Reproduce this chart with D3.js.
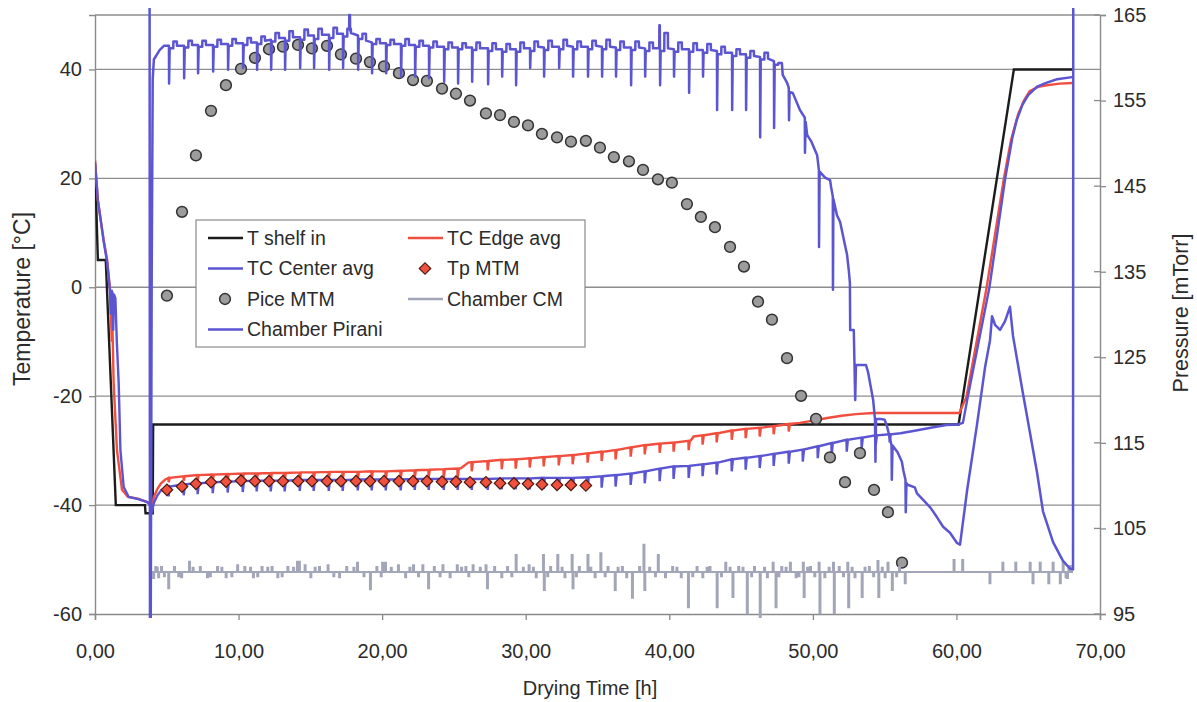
<!DOCTYPE html>
<html>
<head>
<meta charset="utf-8">
<title>Drying run</title>
<script src="https://cdn.jsdelivr.net/npm/d3@7/dist/d3.min.js"></script>
<style>
body{margin:0;background:#fff;}
text{font-family:"Liberation Sans",Arial,sans-serif;fill:#2b2b2b;}
</style>
</head>
<body>
<svg id="chart" width="1197" height="702"></svg>
<script>
// ---- data ----
var timeTicks = [0,10,20,30,40,50,60,70];
var tempTicks = [-60,-40,-20,0,20,40];
var presTicks = [95,105,115,125,135,145,155,165];

var legendNames = ["T shelf in","TC Edge avg","TC Center avg","Tp MTM","Pice MTM","Chamber CM","Chamber Pirani"];

// T shelf in [h, °C]
var shelfIn = [[0.0,22.5],[0.2,5.0],[0.75,5.0],[1.45,-40.0],[3.48,-40.0],[3.52,-41.5],[4.02,-41.5],[4.05,-25.2],
  [60.15,-25.2],[64.0,40.0],[68.1,40.0]];

// TC Edge avg: start, hourly dips [h, level, bottom], extra, end
var edgeHead = [[0.0,23.4],[0.2,16.0],[0.6,8.7],[0.85,5.0],[1.05,-0.5],[1.12,-6.0],[1.17,-10.0],[1.21,-6.5],
  [1.3,-17.6],[1.53,-29.9],[1.88,-37.2],[2.3,-38.5],[3.0,-38.8],[3.6,-39.4],[3.85,-39.6],[3.95,-40.2],
  [4.1,-38.5],[4.35,-37.0],[4.6,-36.0],[4.9,-35.3]];
var edgeDips = [[5.11,-35.0,-35.8],[6.16,-34.7,-35.5],[7.13,-34.5,-35.4],[8.18,-34.4,-35.4],[9.22,-34.3,-35.4],
  [10.27,-34.2,-35.4],[11.24,-34.2,-35.5],[12.22,-34.1,-35.5],[13.19,-34.1,-35.5],[14.24,-34.0,-35.5],
  [15.21,-34.0,-35.5],[16.26,-33.9,-35.4],[17.23,-33.9,-35.4],[18.28,-33.9,-35.4],[19.25,-33.8,-35.3],
  [20.23,-33.8,-35.3],[21.27,-33.7,-35.2],[22.25,-33.6,-35.1],[23.22,-33.5,-35.0],[24.27,-33.4,-35.0],
  [25.24,-33.3,-35.0],[26.22,-32.1,-33.8],[27.33,-31.9,-33.6],[28.31,-31.7,-33.4],[29.28,-31.6,-33.3],
  [30.26,-31.4,-33.1],[31.23,-31.2,-32.9],[32.28,-31.0,-32.7],[33.25,-30.8,-32.5],[34.29,-30.5,-32.2],
  [35.27,-30.2,-31.9],[36.24,-29.9,-31.6],[37.29,-29.4,-31.1],[38.27,-29.0,-30.7],[39.31,-28.7,-30.4],
  [40.28,-28.5,-30.2],[41.33,-28.2,-29.9],[42.30,-27.2,-28.9],[43.28,-26.8,-28.5],[44.33,-26.3,-28.0],
  [45.30,-26.0,-27.7],[46.28,-25.8,-27.4],[47.25,-25.5,-27.0],[48.30,-25.1,-26.5]];
var edgeExtra = [[25.5,-33.2],[26.0,-32.2],[41.5,-28.1],[41.7,-27.4]];
var edgeTail = [[49.1,-24.9],[50.0,-24.5],[51.0,-24.0],[52.0,-23.6],[53.0,-23.3],[54.2,-23.1],[60.2,-23.1],
  [60.7,-20.1],[62.1,-0.1],[63.3,19.9],[63.8,27.0],[64.3,31.8],[64.7,34.3],[65.1,36.0],[65.7,36.8],
  [66.3,37.1],[67.2,37.4],[68.05,37.5]];

// TC Center avg
var centerHead = [[0.0,23.0],[0.2,16.0],[0.6,8.5],[0.85,4.5],[1.0,0.5],[1.05,-0.8],[1.1,-5.0],[1.14,-0.5],
  [1.22,-1.0],[1.27,-8.0],[1.31,-1.2],[1.42,-2.0],[1.52,-10.0],[1.65,-17.6],[1.77,-29.9],[2.0,-36.7],
  [2.35,-38.5],[3.0,-38.9],[3.6,-39.4],[3.85,-40.0],[3.95,-41.5],[4.1,-39.6],[4.35,-38.2],[4.6,-37.3],[4.9,-36.9]];
var centerDips = [[5.11,-36.6,-38.4],[6.16,-36.2,-38.2],[7.13,-36.0,-38.0],[8.18,-35.8,-37.8],[9.22,-35.7,-37.7],
  [10.27,-35.6,-37.6],[11.24,-35.5,-37.5],[12.22,-35.5,-37.5],[13.19,-35.5,-37.5],[14.24,-35.4,-37.4],
  [15.21,-35.4,-37.4],[16.26,-35.4,-37.4],[17.23,-35.4,-37.4],[18.28,-35.3,-37.3],[19.25,-35.3,-37.3],
  [20.23,-35.3,-37.3],[21.27,-35.3,-37.3],[22.25,-35.2,-37.2],[23.22,-35.2,-37.2],[24.27,-35.2,-37.2],
  [25.24,-35.2,-37.2],[26.22,-35.2,-37.2],[27.33,-35.2,-37.2],[28.31,-35.1,-37.1],[29.28,-35.1,-37.1],
  [30.26,-35.1,-37.1],[31.23,-35.0,-37.0],[32.28,-35.0,-37.0],[33.25,-35.0,-37.0],[34.29,-34.9,-36.9],
  [35.27,-34.7,-36.8],[36.24,-34.5,-36.6],[37.29,-34.2,-36.3],[38.27,-33.8,-36.0],[39.31,-33.3,-35.6],
  [40.28,-32.9,-35.2],[41.33,-32.8,-35.0],[42.30,-32.5,-34.7],[43.28,-32.2,-34.4],[44.33,-31.6,-33.8],
  [45.30,-31.3,-33.5],[46.28,-31.0,-33.2],[47.25,-30.6,-32.8],[48.30,-30.2,-32.4],[49.28,-29.8,-32.0],
  [50.32,-29.2,-31.4],[51.29,-28.6,-30.8],[52.34,-28.0,-30.2],[53.38,-27.6,-29.6],[54.36,-27.2,-29.0],
  [55.33,-27.0,-28.5]];
var centerTail = [[56.1,-26.8],[57.0,-26.4],[58.4,-25.7],[59.3,-25.3],[60.1,-25.2],[60.45,-24.9],[60.8,-20.0],
  [62.3,0.0],[63.4,20.0],[63.9,27.5],[64.2,30.7],[64.6,33.5],[65.0,35.3],[65.6,36.8],[66.2,37.5],
  [67.0,38.2],[68.05,38.6]];

// MTM times [h], Tp MTM [°C] (first 30), Pice MTM [mTorr]
var mtmTime = [5.01,6.06,7.03,8.08,9.12,10.17,11.14,12.12,13.09,14.14,15.11,16.16,17.13,18.18,19.15,20.13,
  21.17,22.15,23.12,24.17,25.14,26.12,27.23,28.21,29.18,30.16,31.13,32.18,33.15,34.19,35.17,36.14,37.19,
  38.17,39.21,40.18,41.23,42.2,43.18,44.23,45.2,46.18,47.15,48.2,49.18,50.22,51.19,52.24,53.28,54.26,55.23,56.21];
var tpMTM = [-37.2,-36.6,-36.1,-35.8,-35.7,-35.5,-35.6,-35.6,-35.6,-35.6,-35.6,-35.6,-35.6,-35.6,-35.6,
  -35.6,-35.6,-35.6,-35.6,-35.7,-35.7,-35.8,-35.8,-36.0,-36.0,-36.1,-36.2,-36.3,-36.3,-36.4];
var piceMTM = [132.2,142.0,148.6,153.8,156.8,158.7,160.0,161.0,161.3,161.5,161.1,161.4,160.4,159.9,159.5,
  159.0,158.2,157.4,157.3,156.4,155.8,155.0,153.5,153.3,152.5,152.1,151.1,150.7,150.2,150.3,149.5,148.4,
  147.9,146.9,145.8,145.4,142.9,141.4,140.2,137.9,135.6,131.5,129.4,124.9,120.5,117.8,113.3,110.4,113.8,
  109.5,106.9,101.0];

// Chamber Pirani [h, mTorr]
var pirHead = [[3.80,175],[3.83,90],[3.88,92],[3.95,135],[4.02,157.5],[4.1,159.8],[4.5,160.9],[4.8,161.4]];
// hourly rows: [h, level, dip, level after, upper step, level]
var pirHours = [[5.15,161.4,157.0,161.1,161.9,161.4],[6.20,161.4,157.6,161.2,162.0,161.5],
  [7.17,161.5,158.2,161.3,162.0,161.5],[8.22,161.5,158.4,161.3,162.1,161.6],[9.26,161.6,158.6,161.4,162.2,161.7],
  [10.31,161.7,158.8,161.5,162.3,161.8],[11.28,161.8,158.6,161.6,162.5,162.0],[12.26,162.1,158.6,161.9,162.9,162.3],
  [13.23,162.3,158.6,162.0,163.1,162.4],[14.28,162.4,158.8,162.1,163.3,162.6],[15.25,162.6,158.8,162.2,163.4,162.7],
  [16.30,162.7,158.6,162.3,163.5,162.8],[17.27,162.8,158.8,162.5,163.4,162.9],[18.32,162.6,158.6,162.2,162.8,162.0],
  [19.29,161.8,158.2,161.6,162.2,161.7],[20.27,161.7,158.2,161.5,162.1,161.6],[21.31,161.6,157.8,161.4,162.2,161.5],
  [22.29,161.5,157.8,161.3,162.0,161.4],[23.26,161.4,157.6,161.2,161.9,161.3],[24.31,161.3,157.2,161.0,161.8,161.2],
  [25.28,161.2,157.0,161.0,161.7,161.2],[26.26,161.2,157.2,160.9,161.8,161.1],[27.37,161.1,156.9,160.8,161.7,161.0],
  [28.35,161.0,157.8,160.7,161.6,161.0],[29.32,161.0,156.8,160.7,161.8,161.1],[30.30,161.1,158.8,160.8,161.9,161.3],
  [31.27,161.2,157.8,160.9,162.0,161.3],[32.32,161.3,158.8,161.0,162.1,161.4],[33.29,161.3,157.8,161.0,161.9,161.3],
  [34.33,161.3,157.8,161.0,162.0,161.4],[35.31,161.3,157.8,161.0,162.1,161.3],[36.28,161.2,157.8,160.9,161.9,161.2],
  [37.33,161.2,156.8,160.9,161.9,161.2],[38.31,161.1,157.8,160.8,161.8,161.1],[39.35,161.1,156.8,160.8,162.9,161.1],
  [40.32,161.0,157.8,160.7,161.8,161.0],[41.37,161.0,155.9,160.7,161.7,160.9],[42.34,160.9,157.8,160.6,161.6,160.9],
  [43.32,160.8,153.9,160.4,161.3,160.6],[44.37,160.6,153.9,160.2,161.0,160.4],[45.34,160.4,153.9,160.0,160.8,160.2],
  [46.32,160.1,150.7,159.8,160.6,159.9],[47.29,159.6,151.8,159.2,159.4,159.2]];
var pirExtra = [[17.70,163.4],[17.71,165.0],[17.76,165.0],[17.77,163.2],[39.30,161.1],[39.31,163.8],[39.34,163.8]];
var pirTail = [[47.9,158.0],[48.2,157.1],[48.32,156.5],[48.34,152.7],[48.38,156.0],[48.6,155.9],[49.1,153.9],
  [49.44,153.0],[49.45,148.9],[49.5,152.5],[49.6,151.0],[49.9,150.2],[50.3,148.6],[50.42,146.9],[50.43,137.9],
  [50.47,146.7],[50.85,146.0],[51.2,145.7],[51.27,144.9],[51.39,143.8],[51.4,132.9],[51.43,143.5],[51.68,141.6],
  [51.9,140.8],[52.24,138.1],[52.38,137.0],[52.5,135.2],[52.58,133.7],[52.6,128.2],[52.85,128.2],[52.95,120.0],
  [53.0,124.1],[53.7,124.1],[53.84,123.3],[54.2,120.0],[54.33,117.7],[54.36,112.8],[54.4,117.8],[54.7,117.8],
  [55.0,117.7],[55.17,116.9],[55.4,115.3],[55.48,114.7],[55.5,110.7],[55.55,114.7],[55.9,113.9],[56.2,112.8],
  [56.3,111.8],[56.45,110.7],[56.47,106.9],[56.52,110.3],[56.6,110.1],[57.1,109.8],[57.25,109.1],[57.7,108.3],
  [58.2,107.4],[58.65,106.3],[59.07,105.2],[59.55,104.5],[60.04,103.3],[60.25,103.1],[60.74,109.4],[61.43,117.1],
  [62.0,123.9],[62.34,127.0],[62.48,129.8],[62.69,128.8],[63.04,128.2],[63.38,129.2],[63.73,130.9],[63.94,127.5],
  [64.64,120.7],[65.12,116.2],[65.61,111.6],[66.03,107.0],[66.73,103.4],[67.42,101.2],[67.91,100.3],[68.12,100.2],
  [68.14,175]];

// Chamber CM: base level, start/end, blips [h, mTorr]
var cmBase = 99.9, cmStart = 3.9, cmEnd = 68.12;
var cmBlips = [[4.05,99.2],[4.2,100.5],[4.3,100.4],[4.4,99.3],[4.6,100.5],[4.8,99.4],[5.1,98.0],[5.5,100.5],
  [5.8,99.4],[6.0,99.3],[6.55,101.1],[6.8,100.4],[7.3,100.5],[7.8,99.3],[8.0,99.4],[8.5,100.5],[8.8,100.4],
  [9.1,99.3],[9.5,99.4],[9.9,100.7],[10.4,100.5],[10.8,100.4],[11.0,99.3],[11.3,99.4],[11.6,100.5],[12.0,100.4],
  [12.3,100.5],[12.7,99.3],[13.0,99.4],[13.4,100.5],[13.8,100.4],[14.07,101.1],[14.2,101.1],[14.6,100.7],
  [15.0,99.3],[15.3,100.4],[15.6,100.5],[16.2,100.7],[16.6,99.4],[17.0,99.3],[17.5,100.5],[18.0,100.4],
  [18.25,101.0],[18.7,99.4],[19.15,97.9],[19.6,100.5],[19.9,99.4],[20.0,101.0],[20.2,101.0],[20.6,100.4],
  [21.1,100.7],[21.6,99.3],[21.9,100.4],[22.15,100.7],[22.5,99.4],[22.8,100.7],[23.2,98.0],[23.6,100.5],
  [24.0,99.4],[24.2,100.7],[24.7,99.3],[25.2,100.7],[25.5,100.4],[25.8,100.5],[26.0,99.4],[26.3,100.7],
  [26.8,100.4],[27.2,100.7],[27.3,98.0],[27.8,100.5],[28.3,99.3],[28.7,100.5],[29.0,99.4],[29.3,101.9],
  [29.8,100.4],[30.2,100.7],[30.5,100.4],[30.7,99.3],[31.2,101.9],[31.26,97.8],[31.5,99.4],[31.7,100.5],
  [32.2,101.9],[32.5,100.4],[32.7,99.3],[33.2,101.9],[33.26,98.0],[33.5,99.4],[33.7,100.5],[34.3,101.9],
  [34.5,100.4],[34.8,99.3],[35.2,102.1],[35.5,99.4],[35.7,100.5],[36.2,97.8],[36.4,100.4],[36.7,100.5],
  [37.0,99.3],[37.4,96.9],[37.9,100.5],[38.2,103.1],[38.26,97.8],[38.6,100.4],[39.0,99.4],[39.2,101.9],
  [39.7,99.3],[40.2,100.5],[40.5,100.4],[40.8,99.3],[41.3,95.8],[41.6,99.4],[41.9,100.5],[42.3,99.3],
  [42.6,100.4],[42.8,100.5],[43.3,95.8],[43.6,99.4],[43.9,101.0],[44.2,100.4],[44.4,97.0],[44.8,100.5],
  [45.1,100.4],[45.4,95.1],[45.7,99.4],[45.9,100.5],[46.3,94.3],[46.6,100.4],[46.8,99.3],[47.2,101.0],
  [47.4,95.8],[47.6,99.4],[47.8,100.5],[48.1,100.4],[48.4,101.0],[48.8,99.3],[49.0,99.4],[49.3,101.0],
  [49.36,97.0],[49.6,100.4],[49.8,100.5],[50.1,99.4],[50.4,101.0],[50.46,95.1],[50.8,99.3],[51.1,100.4],
  [51.4,101.0],[51.46,95.1],[51.8,100.5],[52.1,99.4],[52.4,101.0],[52.46,95.8],[52.7,100.4],[52.9,99.3],
  [53.4,97.0],[53.6,100.4],[53.9,100.5],[54.2,99.4],[54.5,101.2],[54.56,97.0],[54.8,100.4],[55.0,99.3],
  [55.2,101.0],[55.5,97.8],[55.8,99.4],[56.0,100.5],[56.4,98.6],[59.8,101.3],[60.4,101.3],[62.3,98.6],
  [63.2,101.0],[64.1,101.0],[65.1,101.0],[65.3,98.6],[65.8,101.0],[66.4,98.6],[66.7,101.0],[67.2,98.6],
  [67.4,101.0],[67.6,99.3],[67.7,99.2],[67.8,100.4],[67.9,100.6]];

// ---- chart ----
var svg = d3.select("#chart");
var plotL = 95, plotR = 1100, plotT = 15, plotB = 614;
var x = d3.scaleLinear().domain([0,70]).range([plotL,plotR]);
var yT = d3.scaleLinear().domain([-60,50]).range([plotB,plotT]);
var yP = d3.scaleLinear().domain([95,165]).range([plotB,plotT]);

var gridCol = "#8e8e8e", axisCol = "#8a8a8a";
var cBlack = "#1c1c1c", cRed = "#f24e3e", cBlue = "#5b55d2", cGrey = "#a3a6b8";

svg.append("defs").append("clipPath").attr("id","plotClip")
  .append("rect").attr("x",plotL).attr("y",8).attr("width",plotR-plotL).attr("height",plotB-8+4);

// gridlines + frame
svg.append("g").selectAll("line").data(tempTicks.filter(function(d){return d>-60;}).concat([50])).join("line")
  .attr("x1",plotL).attr("x2",plotR).attr("y1",function(d){return yT(d);}).attr("y2",function(d){return yT(d);})
  .attr("stroke",gridCol).attr("stroke-width",1.3);

function styleAxis(g){
  g.attr("font-size",null).attr("font-family",null);
  g.select(".domain").attr("stroke",axisCol).attr("stroke-width",1.4);
  g.selectAll(".tick line").attr("stroke",axisCol).attr("stroke-width",1.3);
  g.selectAll(".tick text").style("font-size","20px");
}
svg.append("g").attr("transform","translate("+plotL+",0)")
  .call(d3.axisLeft(yT).tickValues(tempTicks).tickSize(6).tickPadding(7).tickFormat(function(d){return String(d);}))
  .call(styleAxis);
svg.append("g").attr("transform","translate("+plotR+",0)")
  .call(d3.axisRight(yP).tickValues(presTicks).tickSize(6).tickPadding(7).tickFormat(function(d){return String(d);}))
  .call(styleAxis);
svg.append("g").selectAll("line").data(presTicks).join("line")
  .attr("x1",plotR-6).attr("x2",plotR).attr("y1",function(d){return yP(d);}).attr("y2",function(d){return yP(d);})
  .attr("stroke",axisCol).attr("stroke-width",1.3);
svg.append("g").attr("transform","translate(0,"+plotB+")")
  .call(d3.axisBottom(x).tickValues(timeTicks).tickSize(6).tickPadding(24).tickFormat(function(d){return d+",00";}))
  .call(styleAxis);

// axis titles
svg.append("text").attr("transform","translate(22,299) rotate(-90)").attr("text-anchor","middle")
  .attr("dy","0.35em").style("font-size","23px").text("Temperature [°C]");
svg.append("text").attr("transform","translate(1180,313) rotate(-90)").attr("text-anchor","middle")
  .attr("dy","0.35em").style("font-size","21.5px").text("Pressure [mTorr]");
svg.append("text").attr("x",590).attr("y",688).attr("text-anchor","middle")
  .attr("dy","0.35em").style("font-size","20px").text("Drying Time [h]");

// build series
function withDips(head, dips, extra, tail){
  var pts = head.slice();
  dips.forEach(function(d){ pts.push([d[0],d[1]],[d[0]+0.02,d[2]],[d[0]+0.1,d[1]]); });
  pts = pts.concat(extra, tail);
  pts.sort(function(a,b){return a[0]-b[0];});
  return pts;
}
var edgeAvg = withDips(edgeHead, edgeDips, edgeExtra, edgeTail);
var centerAvg = withDips(centerHead, centerDips, [], centerTail);

var pirani = pirHead.slice();
pirHours.forEach(function(r){
  pirani.push([r[0],r[1]],[r[0]+0.01,r[2]],[r[0]+0.05,r[3]],[r[0]+0.3,r[3]],[r[0]+0.31,r[4]],
    [r[0]+0.55,r[4]],[r[0]+0.56,r[5]]);
});
pirani = pirani.concat(pirExtra, pirTail);
pirani.sort(function(a,b){return a[0]-b[0];});

var cm = [[cmStart,cmBase]];
cmBlips.slice().sort(function(a,b){return a[0]-b[0];}).forEach(function(b){
  cm.push([b[0],cmBase],[b[0],b[1]],[b[0]+0.07,b[1]],[b[0]+0.07,cmBase]);
});
cm.push([cmEnd,cmBase]);

var lineT = d3.line().x(function(d){return x(d[0]);}).y(function(d){return yT(d[1]);});
var lineP = d3.line().x(function(d){return x(d[0]);}).y(function(d){return yP(d[1]);});

var plot = svg.append("g").attr("clip-path","url(#plotClip)");
plot.append("path").datum(shelfIn).attr("d",lineT).attr("fill","none").attr("stroke",cBlack).attr("stroke-width",2.4);
plot.append("path").datum(edgeAvg).attr("d",lineT).attr("fill","none").attr("stroke",cRed).attr("stroke-width",2.4);
plot.append("path").datum(centerAvg).attr("d",lineT).attr("fill","none").attr("stroke",cBlue).attr("stroke-width",2.4);

var diamond = d3.symbol().type(d3.symbolSquare).size(66);
plot.append("g").selectAll("path").data(tpMTM).join("path")
  .attr("transform",function(d,i){return "translate("+x(mtmTime[i])+","+yT(d)+") rotate(45)";})
  .attr("d",diamond).attr("fill","#f0513f").attr("stroke","#4a1810").attr("stroke-width",1.2);

plot.append("g").selectAll("circle").data(piceMTM).join("circle")
  .attr("cx",function(d,i){return x(mtmTime[i]);}).attr("cy",function(d){return yP(d);}).attr("r",5.4)
  .attr("fill","#9c9c9c").attr("stroke","#333").attr("stroke-width",1.5);

plot.append("path").datum(cm).attr("d",lineP).attr("fill","none").attr("stroke",cGrey).attr("stroke-width",2);
plot.append("path").datum(pirani).attr("d",lineP).attr("fill","none").attr("stroke",cBlue).attr("stroke-width",2.5)
  .attr("stroke-linejoin","round");

// legend
var lg = svg.append("g");
lg.append("rect").attr("x",196).attr("y",220).attr("width",389).attr("height",127)
  .attr("fill","#fff").attr("stroke","#8a8a8a").attr("stroke-width",1.2);
var legendCols = [cBlack,cRed,cBlue,"#f0513f","#9c9c9c",cGrey,cBlue];
legendNames.forEach(function(name,i){
  var cx = i%2===0 ? 208 : 408, cy = 238 + Math.floor(i/2)*30.5;
  if(name==="Tp MTM"){
    lg.append("path").attr("d",diamond).attr("transform","translate("+(cx+17)+","+cy+") rotate(45)")
      .attr("fill","#f0513f").attr("stroke","#4a1810").attr("stroke-width",1.2);
  } else if(name==="Pice MTM"){
    lg.append("circle").attr("cx",cx+17).attr("cy",cy).attr("r",5.4).attr("fill","#9c9c9c")
      .attr("stroke","#333").attr("stroke-width",1.5);
  } else {
    lg.append("line").attr("x1",cx).attr("x2",cx+35).attr("y1",cy).attr("y2",cy)
      .attr("stroke",legendCols[i]).attr("stroke-width",2.4);
  }
  lg.append("text").attr("x",cx+39).attr("y",cy).attr("dy","0.35em").style("font-size","19.5px").text(name);
});
</script>
</body>
</html>
